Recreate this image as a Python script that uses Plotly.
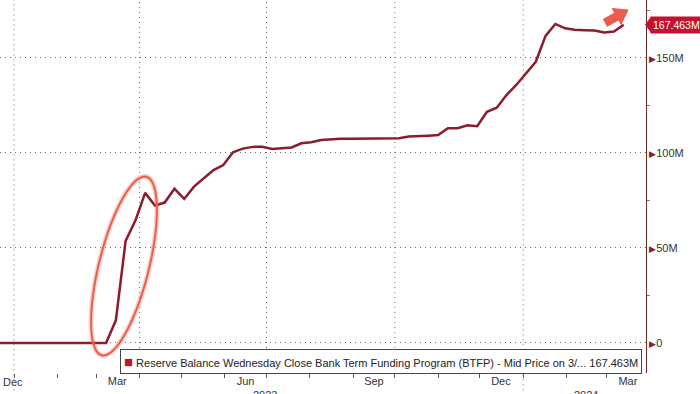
import numpy as np
import pandas as pd
import plotly.graph_objects as go

# ---------------- data ----------------
start_date = "2022-12-21"
n_zero_weeks = 12
btfp_values = [
    11.9, 53.7, 64.4, 79.0, 72.3, 73.9, 81.2, 75.8, 82.3, 86.7, 91.0, 93.6,
    100.4, 102.3, 103.2, 103.3, 102.1, 102.5, 102.9, 105.1, 105.6, 106.8,
    107.3, 107.5, 107.5, 107.6, 107.7, 107.6, 107.7, 107.8, 108.6, 108.7,
    109.1, 109.4, 113.0, 113.0, 114.6, 114.1, 121.7, 123.8, 130.5, 135.8,
    141.9, 148.0, 161.6, 167.9, 165.6, 164.8, 164.6, 164.4, 163.4, 163.9,
    167.463,
]
values = [0.0] * n_zero_weeks + btfp_values
dates = pd.date_range(start_date, periods=len(values), freq="7D")
last_value = values[-1]

series_name = ("Reserve Balance Wednesday Close Bank Term Funding Program (BTFP)"
               " - Mid Price on 3/... 167.463M")
y_tickvals = [0, 50, 100, 150]
y_ticktext = ["0", "50M", "100M", "150M"]
x_label_dates = ["2023-03-16", "2023-06-16", "2023-09-16", "2023-12-16", "2024-03-16"]
x_label_text = ["Mar", "Jun", "Sep", "Dec", "Mar"]
quarter_lines = ["2023-01-01", "2023-04-01", "2023-07-01", "2023-10-01", "2024-01-01"]
year_lines = ["2023-01-01", "2024-01-01"]
x_range = ["2022-12-21 23:00", "2024-03-29"]
y_range = [-15.8, 180.5]

# ---------------- styling ----------------
W, H = 700, 394
ML, MR, MT, MB = 0, 54, 0, 21
PW, PH = W - ML - MR, H - MT - MB
LINE = "#8b1c2c"
RED = "#c4122f"
HL = "#e8604c"
GRID = "#6a6a6a"
GDASH = "1px,4px"
FONT = "Liberation Sans"


def px(x):
    return (x - ML) / PW


def py(y):
    return (MT + PH - y) / PH


fig = go.Figure()
fig.add_trace(go.Scatter(x=dates, y=values, mode="lines",
                         line=dict(color=LINE, width=2.5),
                         showlegend=False, hoverinfo="skip"))

tri = "<span style='color:%s;font-size:9px'>&#9654;</span>" % LINE
fig.update_layout(
    width=W, height=H,
    margin=dict(l=ML, r=MR, t=MT, b=MB),
    paper_bgcolor="white", plot_bgcolor="white",
    font=dict(family=FONT, size=11, color="#333"),
    xaxis=dict(type="date", range=x_range, showgrid=False, zeroline=False,
               showline=False, tickvals=x_label_dates, ticktext=x_label_text,
               ticks="", tickfont=dict(size=11, color="#333"),
               minor=dict(tickvals=list(pd.date_range("2023-01-01", "2024-03-01", freq="MS")),
                          ticks="outside", ticklen=4, tickcolor="#555", showgrid=False)),
    yaxis=dict(side="right", range=y_range, tickvals=y_tickvals,
               ticktext=[tri + t for t in y_ticktext], ticks="",
               showgrid=True, gridcolor=GRID, griddash=GDASH, gridwidth=1,
               zeroline=False, showline=True, linecolor="#6e2b2b", linewidth=1,
               tickfont=dict(size=11, color="#333"),
               minor=dict(tickvals=[25, 75, 125, 175], ticks="outside", ticklen=3,
                          tickcolor="#777", showgrid=False)),
)

shapes = []
for d in quarter_lines:
    y0 = -0.06 if d in year_lines else 0
    shapes.append(dict(type="line", xref="x", yref="paper", x0=d, x1=d, y0=y0, y1=1,
                       line=dict(color=GRID, width=1, dash=GDASH), layer="below"))

# highlight ellipse around the March 2023 jump
cx, cy, a, b, th = 124, 266, 92, 25, np.deg2rad(14)
t = np.linspace(0, 2 * np.pi, 80)
ex = cx + a * np.cos(t) * np.sin(th) + b * np.sin(t) * np.cos(th)
ey = cy - a * np.cos(t) * np.cos(th) + b * np.sin(t) * np.sin(th)
path = "M " + " L ".join(f"{px(xx):.5f},{py(yy):.5f}" for xx, yy in zip(ex, ey)) + " Z"
shapes.append(dict(type="path", xref="paper", yref="paper", path=path,
                   line=dict(color="rgba(232,96,76,0.3)", width=5)))
shapes.append(dict(type="path", xref="paper", yref="paper", path=path,
                   line=dict(color=HL, width=2)))

# pointer of last value label
ly = MT + PH - (last_value - y_range[0]) / (y_range[1] - y_range[0]) * PH
tri_path = (f"M {px(645):.5f},{py(ly):.5f} L {px(651):.5f},{py(ly-8):.5f} "
            f"L {px(651):.5f},{py(ly+8):.5f} Z")
shapes.append(dict(type="path", xref="paper", yref="paper", path=tri_path,
                   fillcolor=RED, line=dict(width=0)))

# decorative up-right arrow (top right)
T = np.array([628.0, 10.0])
u = np.array([23.0, -13.0]); u /= np.linalg.norm(u)
n = np.array([-u[1], u[0]])
Bh = T - 13 * u
S = T - 26 * u
pts = [S + 4 * n, Bh + 4 * n, Bh + 9 * n, T, Bh - 9 * n, Bh - 4 * n, S - 4 * n]
arrow_path = "M " + " L ".join(f"{px(p[0]):.5f},{py(p[1]):.5f}" for p in pts) + " Z"
shapes.append(dict(type="path", xref="paper", yref="paper", path=arrow_path,
                   fillcolor="#ef5b4b", line=dict(color="#ef5b4b", width=1)))
fig.update_layout(shapes=shapes)

ann = []
ann.append(dict(xref="paper", yref="paper", x=px(1), y=py(374), xanchor="left",
                yanchor="top", text="Dec", showarrow=False,
                font=dict(size=11, color="#333")))
ann.append(dict(xref="x", yref="paper", x="2023-06-30", y=py(387), xanchor="center",
                yanchor="top", text="2023", showarrow=False,
                font=dict(size=11, color="#333")))
ann.append(dict(xref="x", yref="paper", x="2024-02-15", y=py(387), xanchor="center",
                yanchor="top", text="2024", showarrow=False,
                font=dict(size=11, color="#333")))
ann.append(dict(xref="paper", yref="y", x=px(650), y=last_value, xanchor="left",
                yanchor="middle", text=f"{last_value:.3f}M", showarrow=False,
                bgcolor=RED, borderpad=2, font=dict(size=10.5, color="white")))
ann.append(dict(xref="paper", yref="paper", x=px(120), y=py(349), xanchor="left",
                yanchor="top", align="left",
                text=f"<span style='color:{RED};font-size:15px'>&#9632;</span> {series_name}",
                showarrow=False, bgcolor="white", bordercolor="#444",
                borderwidth=1, borderpad=3, font=dict(size=11, color="#222")))
fig.update_layout(annotations=ann)

fig.write_html("out.html", config={"displayModeBar": False},
               post_script="document.body.style.margin='0';")
